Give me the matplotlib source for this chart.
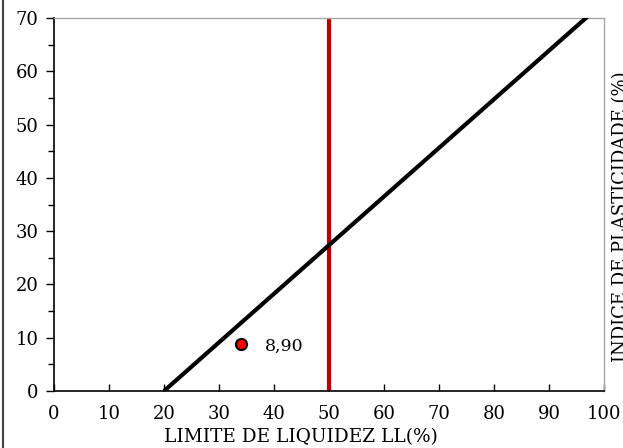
import matplotlib
matplotlib.use("Agg")
import matplotlib.pyplot as plt
from matplotlib.lines import Line2D
from matplotlib.ticker import MultipleLocator

plt.rcParams['font.family'] = ['DejaVu Serif']

# Data
aline_ll = [20, 100]
aline_ip = [0, 73]
ll_limit = 50
sample_ll = [34]
sample_ip = [8.9]
sample_label = "8,90"
x_ticks = [0, 10, 20, 30, 40, 50, 60, 70, 80, 90, 100]
y_ticks = [0, 10, 20, 30, 40, 50, 60, 70]

fig = plt.figure(figsize=(6.23, 4.48), dpi=100)
ax = fig.add_axes([54/623, 1-391/448, (604-54)/623, (391-18)/448])

ax.plot(aline_ll, aline_ip, color='black', lw=3, solid_capstyle='butt', zorder=3)
ax.axvline(ll_limit, color='#c00000', lw=3, zorder=2)
ax.plot(sample_ll, sample_ip, 'o', color='#ff0000', markeredgecolor='black',
        markeredgewidth=1.5, markersize=8, zorder=4)
ax.annotate(sample_label, (sample_ll[0], sample_ip[0]), xytext=(17, -2),
            textcoords='offset points', va='center', ha='left', fontsize=12.5)

ax.set_xlim(0, 100)
ax.set_ylim(0, 70)
ax.set_xticks(x_ticks)
ax.set_yticks(y_ticks)
ax.yaxis.set_minor_locator(MultipleLocator(5))
ax.tick_params(axis='x', direction='in', length=5, width=1, labelsize=13, pad=10)
ax.tick_params(axis='y', which='major', direction='out', length=6, width=1, labelsize=13, pad=5)
ax.tick_params(axis='y', which='minor', direction='out', length=4, width=1)
ax.tick_params(axis='x', which='minor', bottom=False)

for s in ['top', 'right']:
    ax.spines[s].set_color('#a6a6a6')
    ax.spines[s].set_linewidth(1)
for s in ['left', 'bottom']:
    ax.spines[s].set_color('black')
    ax.spines[s].set_linewidth(1.2)

fig.text(301/623, 1-437/448, "LIMITE DE LIQUIDEZ LL(%)", ha='center', va='center', fontsize=13.3)
fig.text(621/623, 1-217/448, "INDICE DE PLASTICIDADE (%)", rotation=90, ha='center', va='center',
         fontsize=13)

fig.add_artist(Line2D([3/623, 3/623], [0, 1], transform=fig.transFigure, color='#444444', lw=1.5))

fig.savefig("out.png", dpi=100)
